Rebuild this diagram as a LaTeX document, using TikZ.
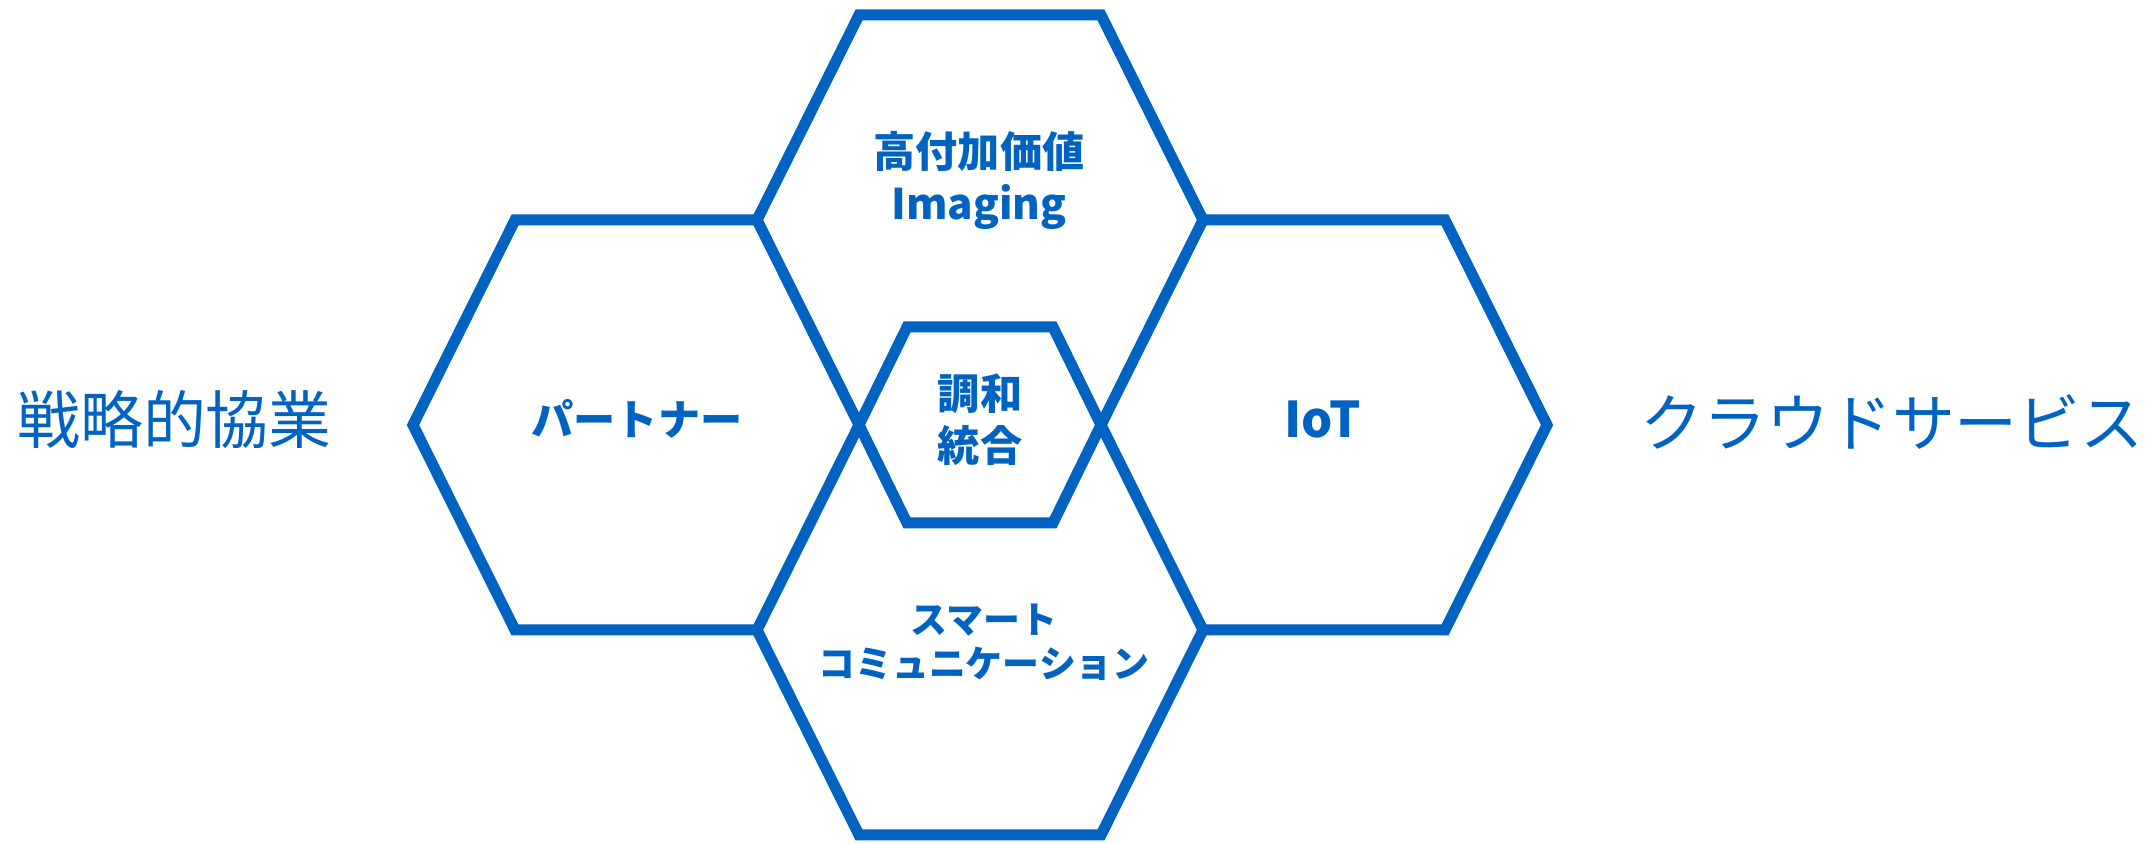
\documentclass[tikz,border=0pt]{standalone}
\usepackage{fontspec}
\setmainfont{Noto Sans CJK JP}
\definecolor{hexblue}{RGB}{0,99,193}
\begin{document}
\begin{tikzpicture}[
    hexline/.style={draw=hexblue, line width=0.11cm},
    sidelabel/.style={text=hexblue, font=\fontsize{17.9}{21}\selectfont},
    hexlabel/.style={text=hexblue, align=center, font=\fontsize{12}{14.8}\selectfont\bfseries},
    commlabel/.style={text=hexblue, align=center, font=\fontsize{10.5}{12.6}\selectfont\bfseries}
  ]
  \useasboundingbox (0,0) rectangle (21.54,8.44);
  % vertices
  \coordinate (lw) at (4.13,4.19);
  \coordinate (lnw) at (5.15,6.24);
  \coordinate (lsw) at (5.15,2.14);
  \coordinate (nw) at (7.57,6.24);
  \coordinate (sw) at (7.57,2.14);
  \coordinate (cw) at (8.59,4.19);
  \coordinate (ce) at (11.01,4.19);
  \coordinate (ne) at (12.03,6.24);
  \coordinate (se) at (12.03,2.14);
  \coordinate (tnw) at (8.59,8.29);
  \coordinate (tne) at (11.01,8.29);
  \coordinate (bsw) at (8.59,0.09);
  \coordinate (bse) at (11.01,0.09);
  \coordinate (rne) at (14.45,6.24);
  \coordinate (rse) at (14.45,2.14);
  \coordinate (re) at (15.47,4.19);
  \coordinate (snw) at (9.07,5.17);
  \coordinate (sne) at (10.53,5.17);
  \coordinate (sse) at (10.53,3.21);
  \coordinate (ssw) at (9.07,3.21);
  % hexagons
  \draw[hexline] (lw) -- (lnw) -- (nw) -- (cw) -- (sw) -- (lsw) -- cycle;
  \draw[hexline] (ce) -- (ne) -- (rne) -- (re) -- (rse) -- (se) -- cycle;
  \draw[hexline] (nw) -- (tnw) -- (tne) -- (ne);
  \draw[hexline] (sw) -- (bsw) -- (bse) -- (se);
  \draw[hexline] (cw) -- (snw) -- (sne) -- (ce) -- (sse) -- (ssw) -- cycle;
  % labels
  \node[sidelabel] (strategy) at (1.745,4.24) {戦略的協業};
  \node[sidelabel] (cloud) at (18.92,4.22) {クラウドサービス};
  \node[hexlabel] (partner) at (6.37,4.25) {パートナー};
  \node[hexlabel, font=\fontsize{14}{16}\selectfont\bfseries] (iot) at (13.23,4.24) {IoT};
  \node[hexlabel] (imaging) at (9.79,6.64) {高付加価値\\Imaging};
  \node[hexlabel] (harmony) at (9.80,4.24) {調和\\統合};
  \node[commlabel] (smart) at (9.84,2.02) {スマート\\コミュニケーション};
\end{tikzpicture}
\end{document}
